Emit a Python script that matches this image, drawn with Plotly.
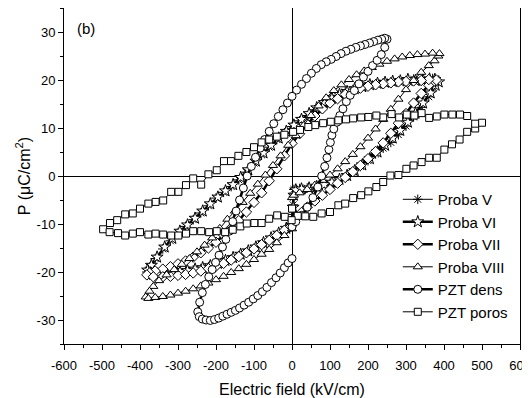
import plotly.graph_objects as go

# ---------------- data ----------------
proba5_E = [0, 2, 3, 4, 5, 20, 40, 60, 80, 100, 120, 140, 160, 180, 200, 220, 240, 260, 280, 300, 320, 340, 360, 372, 380,
            370, 360, 340, 320, 300, 280, 260, 240, 220, 200, 180, 160, 140, 120, 100, 80, 60, 40, 20, 0, -20, -40, -60, -80,
            -100, -120, -140, -160, -180, -200, -220, -240, -260, -280, -300, -320, -340, -360, -375, -382,
            -375, -360, -340, -320, -300, -280, -260, -240, -220, -200, -180, -160, -140, -120, -100, -80, -60, -40, -20, -5]
proba5_P = [-10.0, -8.0, -6.0, -4.2, -2.8, -2.6, -2.5, -2.3, -2.0, -1.5, -1.0, -0.3, 0.8, 2.0, 3.2, 4.6, 5.8, 7.0, 8.6, 10.4, 12.3, 14.3, 16.5, 18.5, 19.8,
            20.3, 20.0, 19.8, 20.2, 19.9, 19.7, 19.6, 19.4, 19.2, 18.9, 18.5, 18.0, 17.5, 16.8, 16.0, 15.0, 13.8, 12.6, 11.5, 10.3, 9.0, 7.6, 6.0, 4.4,
            2.7, 0.8, -0.8, -2.2, -3.4, -4.6, -6.2, -7.7, -9.1, -10.5, -11.8, -13.5, -15.2, -17.2, -19.0, -20.0,
            -20.6, -20.5, -20.3, -20.3, -20.1, -19.9, -19.6, -19.3, -18.9, -18.5, -17.9, -17.3, -16.6, -15.9, -15.1, -14.3, -13.3, -12.2, -11.2, -10.6]

proba6_E = [0, 3, 5, 10, 25, 45, 65, 85, 105, 125, 145, 165, 185, 205, 225, 245, 265, 285, 305, 325, 345, 365, 378, 386,
            376, 362, 345, 325, 305, 285, 265, 245, 225, 205, 185, 165, 145, 125, 105, 85, 65, 45, 25, 5, -15, -35, -55, -75,
            -95, -115, -135, -155, -175, -195, -215, -235, -255, -275, -295, -315, -335, -355, -370, -380,
            -372, -355, -335, -315, -295, -275, -255, -235, -215, -195, -175, -155, -135, -115, -95, -75, -55, -35, -15, 0]
proba6_P = [-9.5, -6.5, -4.0, -2.9, -2.7, -2.5, -2.2, -1.8, -1.3, -0.7, 0.1, 1.1, 2.3, 3.6, 5.0, 6.4, 7.9, 9.5, 11.2, 13.1, 15.2, 17.3, 18.9, 19.6,
            20.1, 20.2, 20.0, 19.9, 20.1, 19.8, 19.7, 19.5, 19.3, 19.0, 18.6, 18.2, 17.6, 17.0, 16.2, 15.3, 14.2, 13.0, 11.8, 10.6, 9.3, 7.9, 6.4, 4.8,
            3.1, 1.3, -0.3, -1.8, -3.1, -4.4, -5.8, -7.3, -8.8, -10.2, -11.5, -13.0, -14.8, -16.9, -18.6, -19.6,
            -20.2, -20.4, -20.2, -20.0, -19.9, -19.7, -19.4, -19.1, -18.7, -18.2, -17.6, -17.0, -16.3, -15.6, -14.8, -13.9, -12.9, -11.9, -10.9, -10.3]

proba7_E = [0, 10, 25, 40, 60, 80, 100, 120, 140, 160, 180, 200, 220, 240, 260, 280, 300, 320, 340, 360, 375,
            380, 360, 340, 320, 300, 280, 260, 240, 220, 200, 180, 160, 140, 120, 100, 80, 60, 40, 20, 0, -20, -40, -60, -80,
            -100, -120, -140, -160, -180, -200, -220, -240, -260, -280, -300, -320, -340, -360, -375,
            -382, -365, -340, -320, -300, -280, -260, -240, -220, -200, -180, -160, -140, -120, -100, -80, -60, -40, -20, -3]
proba7_P = [-10.0, -8.8, -7.6, -6.5, -5.2, -4.0, -2.8, -1.5, -0.3, 0.9, 2.2, 3.6, 5.1, 6.9, 8.9, 11.0, 13.0, 15.2, 17.2, 18.9, 19.8,
            20.0, 20.1, 19.9, 19.8, 19.7, 19.6, 19.4, 19.2, 19.0, 18.7, 18.3, 17.7, 17.0, 16.1, 15.2, 14.0, 12.5, 10.8, 8.8, 6.8, 4.2, 1.5, -1.0, -3.5,
            -5.5, -7.5, -9.3, -10.8, -12.3, -13.8, -15.0, -16.0, -16.9, -17.7, -18.3, -18.9, -19.4, -19.8, -20.2,
            -20.6, -21.0, -21.0, -20.9, -20.7, -20.5, -20.2, -19.8, -19.3, -18.8, -18.2, -17.5, -16.8, -16.0, -15.2, -14.3, -13.4, -12.4, -11.3, -10.5]

proba8_E = [0, 5, 20, 40, 60, 80, 100, 120, 140, 160, 180, 200, 220, 240, 260, 280, 300, 320, 340, 360, 375, 385,
            388, 370, 350, 330, 310, 290, 270, 250, 230, 210, 190, 170, 150, 130, 110, 90, 70, 50, 30, 10, -10, -30, -50, -70,
            -90, -110, -130, -150, -170, -190, -210, -230, -250, -270, -290, -310, -330, -350, -365, -375, -385,
            -378, -360, -340, -320, -300, -280, -260, -240, -220, -200, -180, -160, -140, -120, -100, -80, -60, -40, -20, 0]
proba8_P = [-4.5, -4.0, -3.5, -2.8, -1.9, -0.9, 0.2, 1.5, 3.0, 4.5, 6.1, 7.9, 9.8, 11.8, 13.9, 16.0, 18.0, 19.9, 21.6, 23.0, 24.0, 25.0,
            25.5, 25.6, 25.4, 25.3, 25.1, 24.8, 24.4, 23.9, 23.3, 22.6, 21.9, 21.1, 20.1, 19.0, 17.8, 16.3, 14.6, 12.6, 10.5, 8.4, 6.4, 4.2, 2.2, 0.2,
            -1.7, -3.6, -5.5, -7.3, -9.0, -10.9, -12.9, -14.4, -15.8, -17.2, -18.4, -19.5, -20.6, -21.8, -23.0, -24.0, -25.2,
            -25.5, -25.3, -25.1, -24.8, -24.4, -24.0, -23.5, -22.9, -22.3, -21.6, -20.9, -20.1, -19.3, -18.4, -17.4, -16.3, -15.3, -13.9, -12.4, -11.0]

dens_E = [0, 10, 25, 40, 55, 68, 78, 86, 92, 97, 101, 105, 110, 118, 126, 134, 143, 153, 164, 176, 188, 200, 212, 224, 235, 244, 250,
          244, 236, 226, 215, 204, 192, 180, 168, 155, 142, 129, 116, 103, 90, 77, 64, 51, 38, 25, 12, 0, -12, -24, -36, -48,
          -60, -72, -84, -96, -107, -118, -128, -138, -147, -156, -165, -174, -183, -192, -201, -210, -219, -228, -236, -243, -248,
          -244, -236, -226, -215, -204, -193, -182, -171, -160, -149, -138, -126, -114, -102, -90, -78, -66, -54, -42, -31, -20, -10, 0]
dens_P = [-10.6, -9.5, -8.2, -6.5, -4.5, -2.3, 0.0, 2.0, 3.8, 5.5, 7.0, 8.5, 9.8, 11.2, 12.6, 14.0, 15.5, 16.8, 17.8, 19.2, 20.6, 21.8, 23.0, 24.1, 25.3, 26.8, 28.5,
          28.7, 28.5, 28.3, 28.0, 27.7, 27.4, 27.1, 26.8, 26.4, 26.0, 25.5, 24.9, 24.3, 23.8, 23.2, 22.4, 21.4, 20.3, 19.1, 17.9, 16.6, 15.2, 13.8, 12.4, 10.9,
          9.3, 7.6, 5.8, 3.9, 2.0, 0.0, -2.5, -5.0, -7.3, -9.5, -11.5, -13.2, -14.8, -16.5, -18.0, -19.5, -21.0, -22.6, -24.3, -26.3, -28.3,
          -29.3, -29.8, -30.0, -30.1, -29.9, -29.6, -29.2, -28.8, -28.4, -28.0, -27.5, -26.9, -26.3, -25.6, -24.9, -24.1, -23.2, -22.2, -21.2, -20.2, -19.1, -18.1, -17.2]

poros_E = [0, 15, 35, 56, 78, 100, 122, 140, 161, 182, 201, 222, 240, 259, 280, 301, 320, 341, 361, 381, 401, 421, 441, 461, 482, 500,
           482, 461, 442, 422, 401, 381, 361, 341, 322, 302, 282, 262, 240, 222, 201, 182, 161, 142, 122, 102, 82, 61, 43, 21, 3,
           -20, -40, -60, -80, -100, -120, -141, -161, -179, -198, -220, -239, -260, -279, -299, -318, -339, -359, -378, -400,
           -419, -439, -460, -479, -497,
           -480, -458, -439, -419, -400, -378, -359, -339, -318, -299, -279, -260, -239, -218, -198, -176, -156, -136, -119, -99,
           -80, -60, -39, -19, -1]
poros_P = [-6.8, -8.3, -8.4, -8.5, -7.8, -7.5, -6.1, -5.75, -4.6, -4.0, -3.2, -2.3, -1.25, 0.1, 0.2, 1.5, 2.2, 2.9, 3.8, 3.8, 5.5, 6.6, 7.6, 9.2, 9.9, 11.1,
           10.9, 12.5, 12.8, 12.8, 12.8, 12.4, 12.1, 13.1, 12.6, 12.8, 12.2, 12.9, 12.2, 12.6, 12.3, 12.2, 12.0, 11.8, 11.6, 11.3, 11.0, 10.6, 10.2, 9.6, 9.2,
           8.6, 8.2, 7.6, 7.0, 6.0, 5.0, 4.2, 3.1, 3.1, 1.2, 0.35, -1.8, -0.5, -1.9, -3.3, -3.3, -5.1, -5.4, -5.75, -6.8,
           -7.8, -8.0, -9.2, -9.8, -11.1,
           -11.7, -11.9, -12.4, -12.0, -11.7, -12.2, -12.0, -12.2, -12.4, -12.4, -12.0, -11.5, -11.5, -11.7, -11.5, -11.7, -11.2, -10.5, -9.9, -9.8,
           -9.8, -8.9, -8.2, -8.5, -9.2]

series_names = ["Proba V", "Proba VI", "Proba VII", "Proba VIII", "PZT dens", "PZT poros"]

x_ticks = [-600, -500, -400, -300, -200, -100, 0, 100, 200, 300, 400, 500, 600]
y_ticks = [-30, -20, -10, 0, 10, 20, 30]

# ---------------- figure ----------------
FONT = "Liberation Sans, Arial, sans-serif"
fig = go.Figure()

def add(E, P, name, symbol, lw, size, open_symbol=False):
    if open_symbol:
        marker = dict(symbol=symbol, size=size, color="black", line=dict(color="black", width=1))
    else:
        marker = dict(symbol=symbol, size=size, color="white", line=dict(color="black", width=1))
    fig.add_trace(go.Scatter(x=E, y=P, name=name, mode="lines+markers",
                             line=dict(color="black", width=lw), marker=marker))

add(proba5_E, proba5_P, series_names[0], "asterisk-open", 1, 8, open_symbol=True)
add(proba6_E, proba6_P, series_names[1], "star", 2.5, 9)
add(proba7_E, proba7_P, series_names[2], "diamond", 2.5, 8)
add(proba8_E, proba8_P, series_names[3], "triangle-up", 1, 8)
add(dens_E, dens_P, series_names[4], "circle", 2.5, 8)
add(poros_E, poros_P, series_names[5], "square", 1, 7)

axis_common = dict(showline=True, linecolor="black", linewidth=1, mirror=True,
                   showgrid=False, zeroline=True, zerolinecolor="black", zerolinewidth=1,
                   ticks="outside", ticklen=5, tickcolor="black", tickwidth=1,
                   automargin=False, ticklabeloverflow="allow",
                   tickfont=dict(family=FONT, size=13, color="black"))

fig.update_xaxes(range=[-600, 600], tickmode="array", tickvals=x_ticks,
                 ticktext=[str(v) for v in x_ticks], ticklabelstandoff=4,
                 minor=dict(tickmode="linear", tick0=0, dtick=50, ticks="outside", ticklen=3, tickcolor="black"),
                 title=dict(text="Electric field (kV/cm)", font=dict(family=FONT, size=16, color="black"), standoff=12),
                 **axis_common)
fig.update_yaxes(range=[-35, 35], tickmode="array", tickvals=y_ticks,
                 ticktext=[str(v) for v in y_ticks],
                 minor=dict(tickmode="linear", tick0=0, dtick=5, ticks="outside", ticklen=3, tickcolor="black"),
                 title=dict(text="P (μC/cm<sup>2</sup>)", font=dict(family=FONT, size=16, color="black"), standoff=2),
                 **axis_common)

fig.add_annotation(text="(b)", xref="paper", yref="paper", x=0.025, y=0.94,
                   xanchor="left", yanchor="middle", showarrow=False,
                   font=dict(family=FONT, size=15, color="black"))

# the page adds an 8 px body margin, so the figure is sized to fill the rest of the window
fig.update_layout(
    width=522, height=390,
    margin=dict(l=56, r=10, t=0, b=54),
    paper_bgcolor="white", plot_bgcolor="white",
    font=dict(family=FONT, color="black"),
    showlegend=True,
    legend=dict(x=0.732, y=0.479, xanchor="left", yanchor="top",
                bgcolor="rgba(0,0,0,0)", borderwidth=0,
                font=dict(family=FONT, size=15, color="black"),
                tracegroupgap=0),
)

fig.write_html("out.html")
